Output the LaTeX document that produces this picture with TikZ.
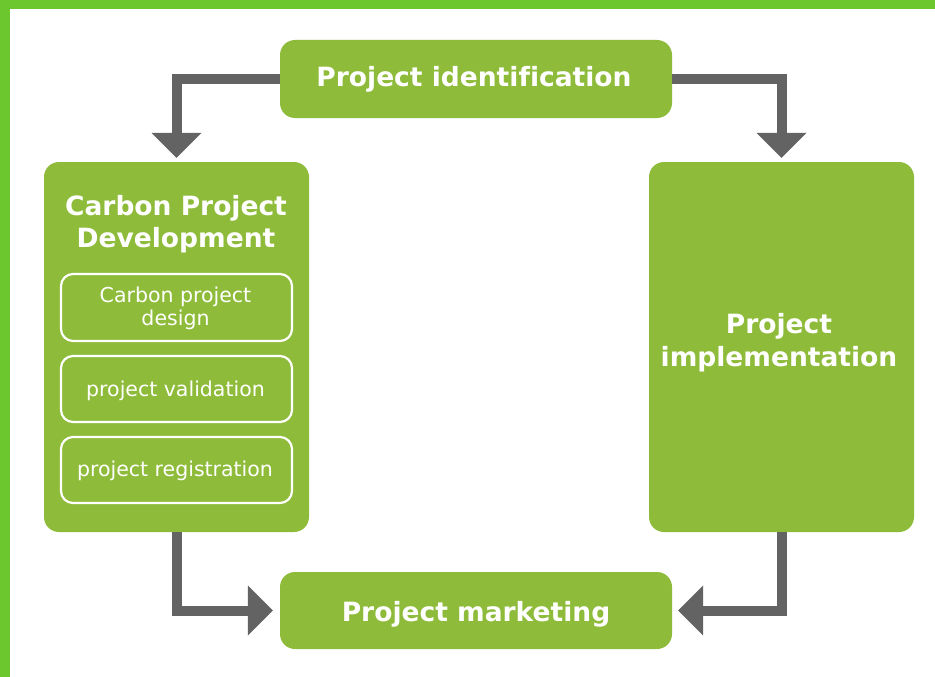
\documentclass[tikz,border=0pt]{standalone}
\usepackage{fontspec}
\setmainfont[Ligatures=NoCommon]{DejaVu Sans}
\usetikzlibrary{arrows.meta}
\definecolor{framegreen}{HTML}{6CC72E}
\definecolor{boxgreen}{HTML}{8EBC3A}
\definecolor{arrowgray}{HTML}{636363}
\begin{document}
\begin{tikzpicture}[x=1pt,y=-1pt,
  stage/.style={fill=boxgreen, draw=none, rounded corners=15pt, inner sep=0pt},
  substage/.style={draw=white, line width=2.2pt, rounded corners=12pt, inner sep=0pt,
    minimum width=231pt},
  headtext/.style={text=white, font=\fontsize{26.5}{32}\selectfont\bfseries,
    inner sep=0pt, anchor=base},
  subtext/.style={text=white, font=\fontsize{20.5}{24}\selectfont,
    inner sep=0pt, anchor=base},
  flow/.style={draw=arrowgray, line width=10pt, line join=miter,
    -{Triangle[width=50pt,length=25pt,line width=0pt]}},
]
\useasboundingbox (0,0) rectangle (935,677);
% page background with the green frame on top and left
\fill[white] (0,0) rectangle (935,677);
\fill[framegreen] (0,0) rectangle (935,9);
\fill[framegreen] (0,0) rectangle (10,677);

% stage boxes
\node[stage, minimum width=392pt, minimum height=78pt] (ident) at (476,79) {};
\node[stage, minimum width=265pt, minimum height=370pt] (cpd) at (176.5,347) {};
\node[stage, minimum width=265pt, minimum height=370pt] (impl) at (781.5,347) {};
\node[stage, minimum width=392pt, minimum height=77pt] (mkt) at (476,610.5) {};

% stage titles
\node[headtext] (identlabel) at (474,87) {Project identification};
\node[headtext] (cpdlabela) at (176,215) {Carbon Project};
\node[headtext] (cpdlabelb) at (176,247) {Development};
\node[headtext] (impllabela) at (779,333) {Project};
\node[headtext] (impllabelb) at (779,366) {implementation};
\node[headtext] (mktlabel) at (476,621) {Project marketing};

% development sub-steps
\node[substage, minimum height=67pt] (design) at (176.5,307.5) {};
\node[substage, minimum height=66pt] (validation) at (176.5,389) {};
\node[substage, minimum height=66pt] (registration) at (176.5,470) {};
\node[subtext] (designlabela) at (175.5,302) {Carbon project};
\node[subtext] (designlabelb) at (175.5,325) {design};
\node[subtext] (validationlabel) at (175.5,396) {project validation};
\node[subtext] (registrationlabel) at (175,476) {project registration};

% flow arrows
\draw[flow, shorten >=4pt] (ident.west) -| (cpd.north);
\draw[flow, shorten >=4pt] (ident.east) -| (impl.north);
\draw[flow, shorten >=7pt] (cpd.south) |- (mkt.west);
\draw[flow, shorten >=6pt] (impl.south) |- (mkt.east);
\end{tikzpicture}
\end{document}
